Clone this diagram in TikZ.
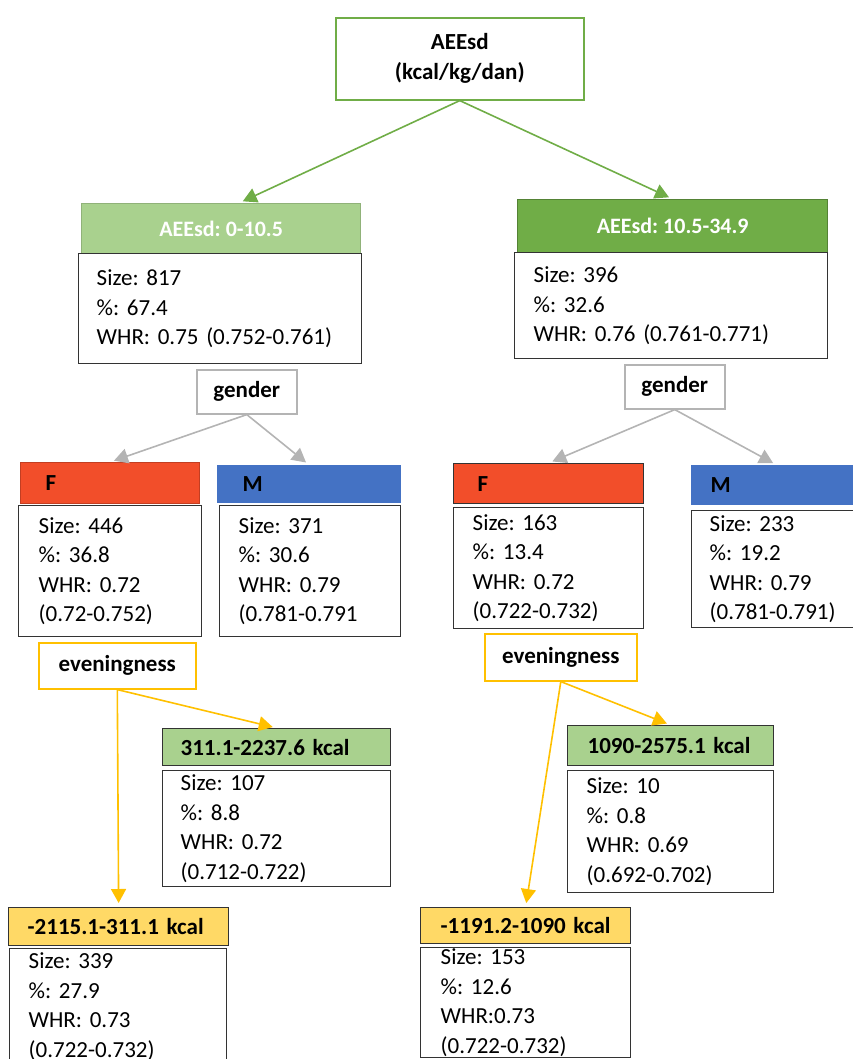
\documentclass[tikz,border=0pt]{standalone}
\usepackage{fontspec}
\setmainfont{Carlito}
\usetikzlibrary{arrows.meta}
\frenchspacing

\definecolor{rootgreen}{HTML}{70AD47}
\definecolor{lightgreen}{HTML}{A9D18E}
\definecolor{darkgreen}{HTML}{70AD47}
\definecolor{femred}{HTML}{F24E2A}
\definecolor{maleblue}{HTML}{4472C4}
\definecolor{evegold}{HTML}{FFC000}
\definecolor{lowyellow}{HTML}{FFD966}
\definecolor{splitgray}{HTML}{B4B4B4}

\newcommand{\bodyfont}{\fontsize{23}{29.5}\selectfont}
\newcommand{\boldfont}{\fontsize{23}{30}\selectfont\bfseries}

\tikzset{
    hdr/.style={draw, line width=1.3pt, anchor=north west, inner ysep=0pt, align=left, font=\boldfont},
    body/.style={draw=black!80, line width=1.4pt, anchor=north west, inner ysep=0pt, align=left, font=\bodyfont},
    split/.style={draw, line width=1.6pt, anchor=north west, inner sep=0pt, font=\boldfont},
}

\begin{document}
\begin{tikzpicture}
            [x=1pt, y=-1pt, >={Triangle[length=14pt,width=15pt]}, shorten >=4pt, line width=1.6pt]
            \clip (0,0) rectangle (853,1059);
            \useasboundingbox (0,0) rectangle (853,1059);

            % root
            \node[split, draw=rootgreen, minimum width=248pt, minimum height=82pt, align=center] (root) at (335,17) {AEEsd\\(kcal/kg/dan)};

            % first split
            \node[hdr, draw=lightgreen!85!black, fill=lightgreen, text=white, inner xsep=0pt, minimum width=279pt, minimum height=50pt, align=center, font=\fontsize{22}{25}\selectfont\bfseries] (lowh) at (81,203) {AEEsd: 0-10.5};
            \node[body, inner xsep=18pt, text width=247pt, minimum height=110pt] (lowb) at (78,253) {Size: 817\\\%: 67.4\\WHR: 0.75 (0.752-0.761)};
            \node[hdr, draw=darkgreen!75!black, fill=darkgreen, text=white, inner xsep=0pt, minimum width=310pt, minimum height=53pt, align=center, font=\fontsize{22}{25}\selectfont\bfseries] (highh) at (517,199) {AEEsd: 10.5-34.9};
            \node[body, inner xsep=19pt, text width=275pt, minimum height=106pt] (highb) at (514,252) {Size: 396\\\%: 32.6\\WHR: 0.76 (0.761-0.771)};

            % gender
            \node[split, draw=splitgray, minimum width=100pt, minimum height=44pt] (sexlow) at (196,369) {gender};
            \node[split, draw=splitgray, minimum width=100pt, minimum height=44pt] (sexhigh) at (624,364) {gender};

            \node[hdr, draw=femred!80!black, fill=femred, inner xsep=25pt, text width=129pt, minimum height=41pt] (flowh) at (20,462) {F};
            \node[body, inner xsep=20pt, text width=143pt, minimum height=131pt] (flowb) at (18,505) {Size: 446\\\%: 36.8\\WHR: 0.72\\(0.72-0.752)};
            \node[hdr, draw=maleblue, fill=maleblue, inner xsep=25pt, text width=133pt, minimum height=37pt] (mlowh) at (217,465) {M};
            \node[body, inner xsep=19pt, text width=143pt, minimum height=131pt] (mlowb) at (219,505) {Size: 371\\\%: 30.6\\WHR: 0.79\\(0.781-0.791};

            \node[hdr, draw=black!80, fill=femred, inner xsep=24pt, text width=142pt, minimum height=40pt] (fhighh) at (453,463) {F};
            \node[body, inner xsep=19pt, text width=152pt, minimum height=121pt] (fhighb) at (453,507) {Size: 163\\\%: 13.4\\WHR: 0.72\\(0.722-0.732)};
            \node[hdr, draw=maleblue, fill=maleblue, inner xsep=19pt, text width=132pt, minimum height=39pt] (mhighh) at (691,465) {M};
            \node[body, inner xsep=18pt, text width=134pt, minimum height=117pt] (mhighb) at (691,510) {Size: 233\\\%: 19.2\\WHR: 0.79\\(0.781-0.791)};

            % eveningness
            \node[split, draw=evegold, minimum width=157pt, minimum height=46pt] (evelow) at (38,642) {eveningness};
            \node[split, draw=evegold, minimum width=152pt, minimum height=47pt] (evehigh) at (484,633) {eveningness};

            \node[hdr, draw=black!80, fill=lightgreen, inner xsep=18pt, text width=192pt, minimum height=37pt] (lategl) at (162,728) {311.1-2237.6 kcal};
            \node[body, inner xsep=18pt, text width=192pt, minimum height=116pt] (lategb) at (162,770) {Size: 107\\\%: 8.8\\WHR: 0.72\\(0.712-0.722)};
            \node[hdr, draw=black!80, fill=lowyellow, inner xsep=19pt, text width=182pt, minimum height=38pt] (earlyl) at (8,907) {-2115.1-311.1 kcal};
            \node[body, inner xsep=19pt, text width=179pt, minimum height=116pt] (earlylb) at (9,948) {Size: 339\\\%: 27.9\\WHR: 0.73\\(0.722-0.732)};

            \node[hdr, draw=black!80, fill=lightgreen, inner xsep=20pt, text width=166pt, minimum height=40pt] (lategh) at (567,725) {1090-2575.1 kcal};
            \node[body, inner xsep=19pt, text width=168pt, minimum height=122pt] (lateghb) at (567,770) {Size: 10\\\%: 0.8\\WHR: 0.69\\(0.692-0.702)};
            \node[hdr, draw=black!80, fill=lowyellow, inner xsep=20pt, text width=170pt, minimum height=36pt] (earlyh) at (420,907) {-1191.2-1090 kcal};
            \node[body, inner xsep=20pt, text width=170pt, minimum height=110pt] (earlyhb) at (420,947) {Size: 153\\\%: 12.6\\WHR:0.73\\(0.722-0.732)};

            \draw [->, rootgreen] (root.south) -- (lowh.55);
            \draw [->, rootgreen] (root.south) -- (highh.north);
            \draw [->, splitgray] (sexlow.south) -- (flowh.north);
            \draw [->, splitgray] (sexlow.south) -- (mlowh.north);
            \draw [->, splitgray] (sexhigh.south) -- (fhighh.north);
            \draw [->, splitgray] (sexhigh.south) -- (mhighh.north);
            \draw [->, evegold] (evelow.south) -- (earlyl.north);
            \draw [->, evegold] (evelow.south) -- (lategl.north);
            \draw [->, evegold] (evehigh.south) -- (earlyh.north);
            \draw [->, evegold] (evehigh.south) -- (lategh.north);
        \end{tikzpicture}
\end{document}
